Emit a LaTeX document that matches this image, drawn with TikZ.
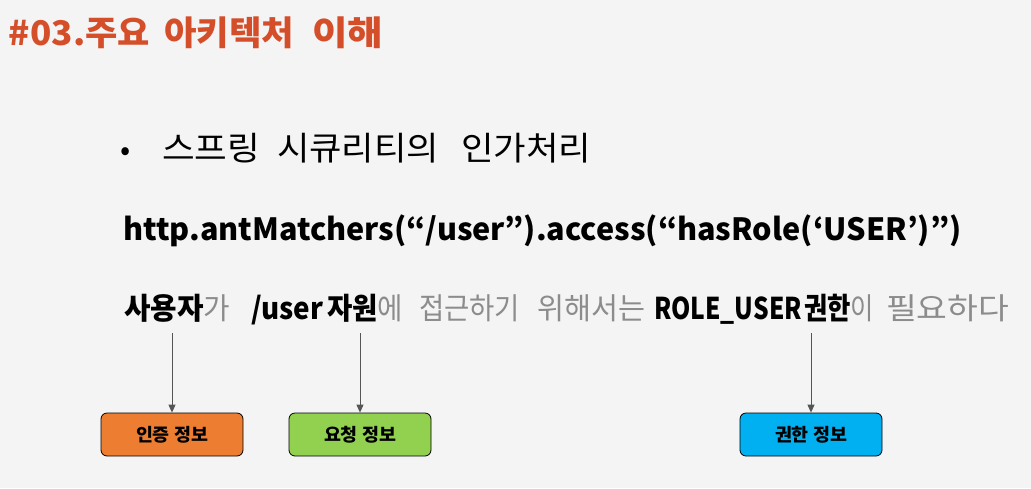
\documentclass[tikz,border=0pt]{standalone}
\usepackage{fontspec}
\usepackage{graphicx}
\setmainfont{Noto Sans CJK KR}
\usetikzlibrary{arrows.meta}
\definecolor{bgc}{HTML}{F4F4F4}
\definecolor{titlec}{HTML}{D54E2A}
\definecolor{grayt}{HTML}{8C8C8C}
\definecolor{arrc}{HTML}{555555}
\definecolor{orangeb}{HTML}{ED7D31}
\definecolor{greenb}{HTML}{92D050}
\definecolor{blueb}{HTML}{00B0F0}
\newsavebox\fitbox
\newcommand\fitw[2]{\sbox\fitbox{#2}\pgfmathsetmacro\fitf{#1/\wd\fitbox}\scalebox{\fitf}[1]{\usebox\fitbox}}
\tikzset{
  txt/.style={inner sep=0pt, outer sep=0pt, anchor=base west},
  titlefont/.style={txt, text=titlec, font=\fontsize{34}{38}\selectfont\bfseries},
  headfont/.style={txt, font=\fontsize{33}{36}\selectfont},
  codefont/.style={txt, font=\fontsize{30.6}{34}\selectfont\bfseries},
  sentb/.style={txt, font=\fontsize{30}{34}\selectfont\bfseries},
  sentg/.style={txt, text=grayt, font=\fontsize{30}{34}\selectfont},
  infobox/.style={draw=black, line width=0.8pt, rounded corners=6pt, minimum width=142pt, minimum height=43pt, inner sep=0pt, font=\fontsize{18}{20}\selectfont\bfseries},
  conn/.style={draw=arrc, line width=0.9pt, -{Triangle[length=8pt,width=7pt]}}
}
\begin{document}
\begin{tikzpicture}[x=1pt,y=-1pt]
\fill[bgc] (0,0) rectangle (1031,488);
\useasboundingbox (0,0) rectangle (1031,488);
% title
\node[titlefont] (t1) at (9,45) {\fitw{141}{\#03.주요}};
\node[titlefont] (t2) at (164,45) {\fitw{130}{아키텍처}};
\node[titlefont] (t3) at (312,45) {\fitw{71}{이해}};
% bullet line
\node[txt, font=\fontsize{30}{34}\selectfont] (bullet) at (120,160) {•};
\node[headfont] (h1) at (162,160) {\fitw{98}{스프링}};
\node[headfont] (h2) at (277,160) {\fitw{162}{시큐리티의}};
\node[headfont] (h3) at (461,160) {\fitw{130}{인가처리}};
% code line
\node[codefont] (code) at (123,240) {http.antMatchers(“/user”).access(“hasRole(‘USER’)”)};
% sentence
\node[sentb] (w1) at (124,319) {\fitw{106}{사용자\textmd{\textcolor{grayt}{가}}}};
\node[sentb] (w2) at (251,319) {\fitw{72}{/user}};
\node[sentb] (w3) at (327,319) {\fitw{76}{자원\textmd{\textcolor{grayt}{에}}}};
\node[sentg] (w4) at (419,319) {\fitw{101}{접근하기}};
\node[sentg] (w5) at (537,319) {\fitw{108}{위해서는}};
\node[sentb] (w6) at (654,319) {\fitw{148}{ROLE\_USER}};
\node[sentb] (w7) at (804,319) {\fitw{70}{권한\textmd{\textcolor{grayt}{이}}}};
\node[sentg] (w8) at (886,319) {\fitw{123}{필요하다}};
% boxes
\node[infobox, fill=orangeb] (auth) at (172,434.5) {\fitw{72}{인증 정보}};
\node[infobox, fill=greenb] (req) at (360,434.5) {\fitw{72}{요청 정보}};
\node[infobox, fill=blueb] (perm) at (811,434.5) {\fitw{72}{권한 정보}};
% arrow starts
\coordinate (s1) at (172,333);
\coordinate (s2) at (360,333);
\coordinate (s3) at (811,333);
\draw[conn] (s1) -- (auth.north);
\draw[conn] (s2) -- (req.north);
\draw[conn] (s3) -- (perm.north);
\end{tikzpicture}
\end{document}
